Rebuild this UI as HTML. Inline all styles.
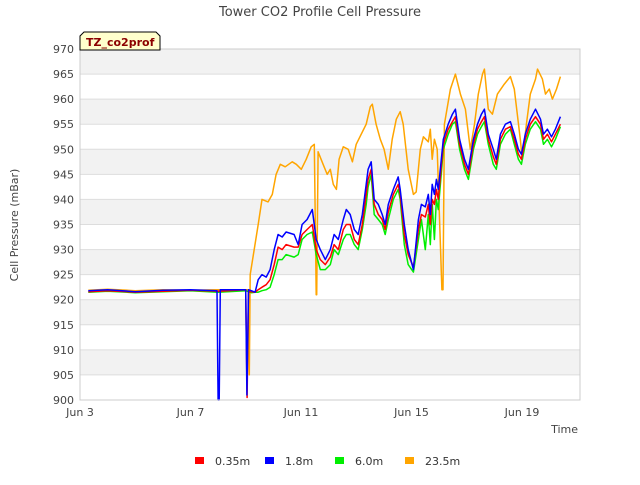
<!DOCTYPE html>
<html><head><meta charset="utf-8"><style>
body{margin:0;background:#fff;font-family:"Liberation Sans","DejaVu Sans",sans-serif}
</style></head><body>
<svg id="c" width="640" height="480" xmlns="http://www.w3.org/2000/svg" font-family="DejaVu Sans, Liberation Sans, sans-serif">
<text x="320" y="16" text-anchor="middle" font-size="13" fill="#444">Tower CO2 Profile Cell Pressure</text>
<g id="grid"></g>
<g id="series"></g>
<g id="axes"></g>
<text transform="translate(18,225) rotate(-90)" text-anchor="middle" font-size="11" fill="#444">Cell Pressure (mBar)</text>
<text x="578" y="433" text-anchor="end" font-size="11" fill="#444">Time</text>
<g>
<path d="M80,50 L80,36 L84,32 L156,32 L160,36 L160,50 Z" fill="#ffffcc" stroke="#000" stroke-width="1"/>
<text x="86" y="46" font-size="11" font-weight="bold" fill="#8b0000">TZ_co2prof</text>
</g>
<g id="legend"></g>
</svg>
<script>
const yTicks=[900,905,910,915,920,925,930,935,940,945,950,955,960,965,970];
const xTickDays=[0,4,8,12,16];
const xTickLabels=["Jun 3","Jun 7","Jun 11","Jun 15","Jun 19"];
const seriesNames=["0.35m","1.8m","6.0m","23.5m"];
const seriesColors=["#ff0000","#0000ff","#00ee00","#ffa500"];
const tDays=[6.34,6.45,6.59,6.74,6.88,7.03,7.17,7.32,7.46,7.75,
7.90,8.04,8.22,8.41,8.55,8.70,8.88,9.06,9.20,9.35,
9.53,9.64,9.78,9.93,10.07,10.22,10.36,10.43,10.54,10.65,
10.80,10.94,11.05,11.16,11.34,11.52,11.59,11.74,11.88,12.07,
12.25,12.36,12.50,12.61,12.68,12.75,12.83,12.90,12.97,13.15,
13.33,13.48,13.59,13.74,13.92,14.06,14.24,14.39,14.53,14.64,
14.78,14.96,15.07,15.22,15.40,15.58,15.72,15.87,15.98,16.12,
16.30,16.49,16.67,16.78,16.92,17.07,17.21,17.39];
const blueVals=[921.5,924,925,924.5,926,930,933,932.5,933.5,933,
931,935,936,938,932,930,928,930,933,932,
936,938,937,934,933,937,943,946,947.5,940,
939,937,935,939,942,944.5,942,935,930,926,
936,939,938.5,941,937,943,941,944,942,952,
955,957,958,952,948,946,952,955,957,958,
953,950,948,953,955,955.5,953,950,949,953,
956,958,956,953,954,952.5,954,956.5];
const redVals=[921.5,922,922.5,923,924,927,930.5,930,931,930.5,
930.5,933,934,935,930,928,927,928.5,931,930,
934,935,935,932,931,935,941,944,946,939,
937,936,934,937.5,941,943,941,933,929,926.5,
934,937,936.5,939,935,940,939,942,940,951,
954,955.5,956.5,951,947,945,951,954,955.5,956.5,
952,948.5,947,952,954,954.5,952,949,948,952,
955,956.5,955,952,953,951.5,953,955];
const greenVals=[921.5,921.5,921.8,922,922.5,925,928,928,929,928.5,
929,932,933,933.5,929,926,926,927,930,929,
932,933,933,931,930,934,939,942.5,945,937,
936,935,933,936,940,942,940,931,927,925.5,
932,936,930,937,931,939,932,940,938,950,
953,955,955.5,950,946,944,950,953,954.5,955.5,
951,947,946,951,953,954,951,948,947,951,
954,955.5,954,951,952,950.5,952,954.5];
const bluePreDays=[0.3,1,2,3,4,4.96,5.0,5.04,5.08,6.0,6.04,6.1,6.2];
const bluePreVals=[921.8,922,921.6,921.9,922,921.8,900,900,922,922,901,922,921.8];
const redPreDays=[0.3,1,2,3,4,5,6.0,6.05,6.1,6.2];
const redPreVals=[921.6,921.8,921.5,921.7,921.9,921.7,922,900.5,921.6,921.6];
const greenPreDays=[0.3,1,2,3,4,5,6,6.2];
const greenPreVals=[921.5,921.7,921.4,921.6,921.8,921.5,921.8,921.4];
const orangeDays=[0.3,1,2,3,4,5,6,6.1,6.13,6.16,6.45,6.59,6.81,6.96,7.10,7.25,7.43,7.68,7.83,8.01,
8.19,8.37,8.48,8.55,8.57,8.62,8.80,8.95,9.06,9.17,9.28,9.38,9.53,9.71,9.86,10.0,10.36,10.51,10.58,10.72,
10.87,11.01,11.16,11.30,11.45,11.59,11.70,11.88,12.07,12.17,12.32,12.43,12.61,12.68,12.75,12.83,12.93,13.10,13.14,13.19,
13.41,13.59,13.77,13.95,14.13,14.28,14.42,14.57,14.64,14.78,14.93,15.11,15.36,15.58,15.72,15.83,15.94,16.01,16.16,16.30,
16.49,16.56,16.74,16.85,16.99,17.10,17.25,17.39];
const orangeVals=[921.9,922.1,921.8,922,921.9,922,922,922,905,925,935,940,939.5,941,945,947,946.5,947.5,947,946,
948,950.5,951,921,921,949.5,947,945,946,943,942,948,950.5,950,947.5,951,955,958.5,959,955,
952,950,946,952,956,957.5,955,946,941,941.5,950,952.5,951.5,954,948,952,950,922,922,955,
962,965,961,958,950,955,961,965,966,958,957,961,963,964.5,962,957,952,948,955,961,
964,966,964,961,962,960,962,964.5];

const X0=80,X1=580,Y0=49,Y1=400,D0=0,D1=18.1;
const xs=d=>X0+(d-D0)/(D1-D0)*(X1-X0);
const ys=v=>Y1-(v-900)/70*(Y1-Y0);
const NS="http://www.w3.org/2000/svg";
function mk(tag,attrs,parent){const e=document.createElementNS(NS,tag);for(const k in attrs)e.setAttribute(k,attrs[k]);parent.appendChild(e);return e;}
const grid=document.getElementById('grid'),axes=document.getElementById('axes'),ser=document.getElementById('series'),leg=document.getElementById('legend');
for(let i=0;i<yTicks.length-1;i++){
  const r=mk('rect',{x:X0,y:ys(yTicks[i+1]),width:X1-X0,height:ys(yTicks[i])-ys(yTicks[i+1]),fill:(i%2==1)?'#f2f2f2':'#ffffff'},grid);
  
  
}
yTicks.forEach(v=>{
  const l=mk('line',{x1:X0,x2:X1,y1:ys(v),y2:ys(v),stroke:'#dddddd','stroke-width':1},grid);
  
  
  const t=mk('text',{x:X0-6,y:ys(v)+4,'text-anchor':'end','font-size':11,fill:'#444'},axes);
  t.textContent=v;
  
  
});
xTickDays.forEach((d,i)=>{
  const t=mk('text',{x:xs(d),y:Y1+16,'text-anchor':'middle','font-size':11,fill:'#444'},axes);
  t.textContent=xTickLabels[i];
  
  
});
const frame=mk('rect',{x:X0,y:Y0,width:X1-X0,height:Y1-Y0,fill:'none',stroke:'#cccccc'},axes);


function line(days,vals,color,name){
  const p=mk('polyline',{points:days.map((d,i)=>xs(d).toFixed(1)+','+ys(vals[i]).toFixed(1)).join(' '),fill:'none',stroke:color,'stroke-width':1.5,'stroke-linejoin':'round'},ser);
  
  
}
line(orangeDays,orangeVals,seriesColors[3],'series-23-5m');
line(greenPreDays.concat(tDays),greenPreVals.concat(greenVals),seriesColors[2],'series-6-0m');
line(redPreDays.concat(tDays),redPreVals.concat(redVals),seriesColors[0],'series-0-35m');
line(bluePreDays.concat(tDays),bluePreVals.concat(blueVals),seriesColors[1],'series-1-8m');
const legX=[195,265,335,405];
seriesNames.forEach((n,i)=>{
  const g=mk('g',{},leg);
  
  
  mk('rect',{x:legX[i],y:457,width:9,height:7,fill:seriesColors[i]},g);
  const t=mk('text',{x:legX[i]+20,y:465,'font-size':11,fill:'#333'},g);
  t.textContent=n;
});
</script>
</body></html>
